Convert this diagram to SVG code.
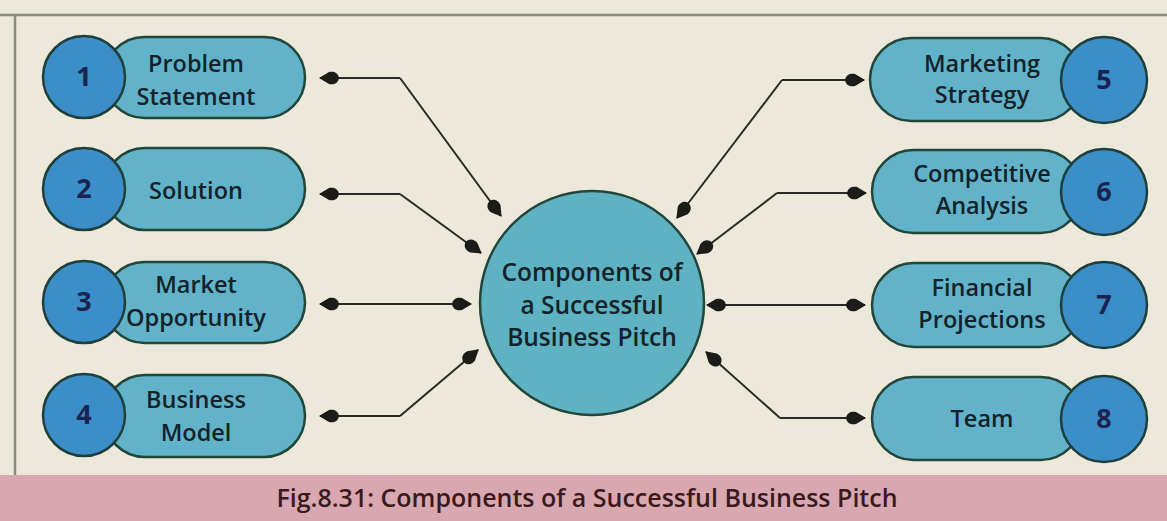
<svg xmlns="http://www.w3.org/2000/svg" width="1167" height="521" viewBox="0 0 1167 521">
<defs>
<marker id="ah" viewBox="0 0 20 14" refX="19" refY="7" markerWidth="20" markerHeight="14" markerUnits="userSpaceOnUse" orient="auto-start-reverse">
<path d="M0,7 C1,1 6,0 10,1 L20,7 L10,13 C6,14 1,13 0,7 Z" fill="#1b1b18"/>
</marker>
</defs>
<style>
.pill{fill:#62b3c9;stroke:#22473a;stroke-width:2.5}
.num{fill:#3b8ec8;stroke:#1f3f3c;stroke-width:2.5}
.lbl{font-family:"Open Sans","DejaVu Sans",sans-serif;font-weight:600;font-size:23.5px;fill:#14232a;text-anchor:middle}
.n{font-family:"Open Sans","DejaVu Sans",sans-serif;font-weight:700;font-size:27px;fill:#1a2450;text-anchor:middle}
.con{fill:none;stroke:#2a2a22;stroke-width:2;marker-end:url(#ah)}
.dbl{marker-start:url(#ah)}
</style>
<rect x="0" y="0" width="1167" height="521" fill="#ece9da"/>
<line x1="0" y1="15" x2="1167" y2="15" stroke="#8d8b80" stroke-width="2.5"/>
<line x1="15" y1="15" x2="15" y2="476" stroke="#8d8b80" stroke-width="2.5"/>
<rect x="0" y="475" width="1167" height="46" fill="#d8a7b0"/>
<text x="587" y="507" style="font-family:'Open Sans','DejaVu Sans',sans-serif;font-weight:600;font-size:25px;fill:#3a1a1c;text-anchor:middle">Fig.8.31: Components of a Successful Business Pitch</text>

<g id="connectors">
<path class="con" d="M400,78 L320,78" />
<path class="con" d="M400,78 L501,216" />
<path class="con" d="M400,194 L320,194" />
<path class="con" d="M400,194 L481,253" />
<path class="con dbl" d="M320,304 L471,304" />
<path class="con" d="M400,416 L320,416" />
<path class="con" d="M400,416 L478,350" />
<path class="con" d="M782,80 L864,80" />
<path class="con" d="M782,80 L677,218" />
<path class="con" d="M777,193 L866,193" />
<path class="con" d="M777,193 L697,254" />
<path class="con dbl" d="M707,305 L865,305" />
<path class="con" d="M780,418 L865,418" />
<path class="con" d="M780,418 L706,352" />
</g>

<g id="center">
<circle cx="592" cy="303" r="112" fill="#5fb2c1" stroke="#22473a" stroke-width="2.5"/>
<text class="lbl" x="592" y="281" style="font-size:24.5px">Components of</text>
<text class="lbl" x="592" y="314" style="font-size:24.5px">a Successful</text>
<text class="lbl" x="592" y="346" style="font-size:24.5px">Business Pitch</text>
</g>

<g id="node1">
<rect class="pill" x="104" y="37" width="201" height="81" rx="40.5"/>
<circle class="num" cx="84" cy="77" r="41"/>
<text class="n" x="84" y="86">1</text>
<text class="lbl" x="196" y="72">Problem</text>
<text class="lbl" x="196" y="105">Statement</text>
</g>
<g id="node2">
<rect class="pill" x="104" y="148" width="201" height="82" rx="41"/>
<circle class="num" cx="84" cy="189" r="41"/>
<text class="n" x="84" y="198">2</text>
<text class="lbl" x="196" y="199">Solution</text>
</g>
<g id="node3">
<rect class="pill" x="104" y="262" width="201" height="81" rx="40.5"/>
<circle class="num" cx="84" cy="302" r="41"/>
<text class="n" x="84" y="311">3</text>
<text class="lbl" x="196" y="293">Market</text>
<text class="lbl" x="196" y="326">Opportunity</text>
</g>
<g id="node4">
<rect class="pill" x="104" y="375" width="201" height="82" rx="41"/>
<circle class="num" cx="84" cy="415" r="41"/>
<text class="n" x="84" y="424">4</text>
<text class="lbl" x="196" y="408">Business</text>
<text class="lbl" x="196" y="441">Model</text>
</g>

<g id="node5">
<rect class="pill" x="870" y="38" width="212" height="83" rx="41.5"/>
<circle class="num" cx="1104" cy="80" r="43"/>
<text class="n" x="1104" y="89">5</text>
<text class="lbl" x="982" y="72">Marketing</text>
<text class="lbl" x="982" y="103">Strategy</text>
</g>
<g id="node6">
<rect class="pill" x="872" y="150" width="210" height="83" rx="41.5"/>
<circle class="num" cx="1104" cy="192" r="43"/>
<text class="n" x="1104" y="201">6</text>
<text class="lbl" x="982" y="182">Competitive</text>
<text class="lbl" x="982" y="214">Analysis</text>
</g>
<g id="node7">
<rect class="pill" x="872" y="263" width="210" height="84" rx="42"/>
<circle class="num" cx="1104" cy="305" r="43"/>
<text class="n" x="1104" y="314">7</text>
<text class="lbl" x="982" y="296">Financial</text>
<text class="lbl" x="982" y="328">Projections</text>
</g>
<g id="node8">
<rect class="pill" x="872" y="377" width="210" height="83" rx="41.5"/>
<circle class="num" cx="1104" cy="419" r="43"/>
<text class="n" x="1104" y="428">8</text>
<text class="lbl" x="982" y="427">Team</text>
</g>
</svg>
